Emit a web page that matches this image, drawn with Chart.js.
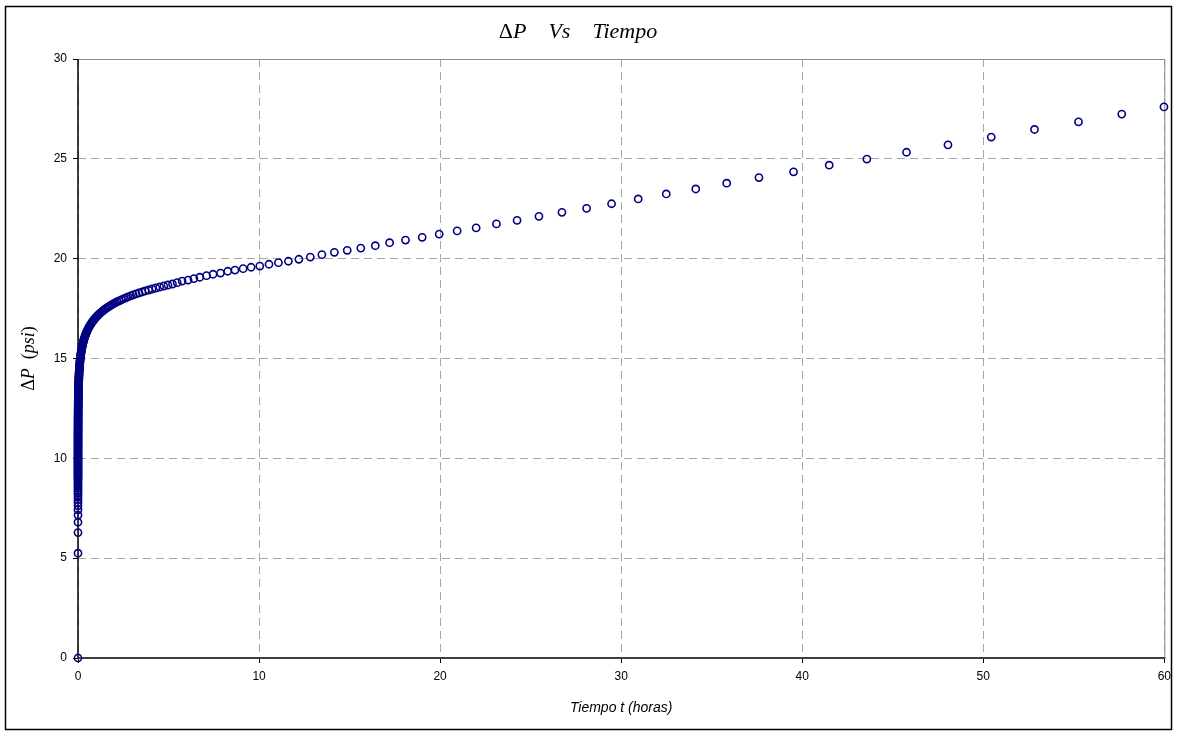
<!DOCTYPE html>
<html>
<head>
<meta charset="utf-8">
<script src="https://cdn.jsdelivr.net/npm/chart.js@4/dist/chart.umd.min.js"></script>
<style>
  html, body { margin: 0; padding: 0; background: #fff; }
  #wrap { position: relative; width: 1177px; height: 734px; }
</style>
</head>
<body>
<div id="wrap"><canvas id="chart" width="1177" height="734"></canvas></div>
<script>
// Data (hours, psi)
const tiempoHoras = [
  // early points, stacked on the y axis
  0, 0.00001, 0.00002, 0.00003, 0.00004, 0.00006, 0.00007, 0.00008, 0.00009, 0.0001,
  0.00011, 0.00012, 0.00013, 0.00015, 0.00016, 0.00018, 0.0002, 0.00022, 0.00024,
  0.00031, 0.00033, 0.00035, 0.00036, 0.00038, 0.00040, 0.00042, 0.00044, 0.00047, 0.00049,
  0.00052, 0.00054, 0.00057, 0.00060, 0.00063, 0.00066, 0.00070, 0.00073, 0.00077, 0.00081,
  0.00085, 0.00090, 0.00094, 0.00099, 0.00104, 0.00110, 0.00115, 0.00121, 0.00127, 0.00134,
  0.00140, 0.00148, 0.00155, 0.00163, 0.00171, 0.00180, 0.00190, 0.00199, 0.00210, 0.00220,
  0.00232, 0.00243, 0.00256, 0.00269, 0.00283, 0.00297, 0.00313, 0.00329, 0.00346, 0.00363,
  0.00382, 0.00402, 0.00422, 0.00444, 0.00467, 0.00491, 0.00516, 0.00542, 0.00570, 0.00599,
  // knee
  0.00628, 0.00660, 0.00694, 0.00730, 0.00767, 0.00807, 0.00848, 0.00892, 0.00937, 0.00985,
  0.01036, 0.01089, 0.01145, 0.01204, 0.01266, 0.01331, 0.01399, 0.01471, 0.01546, 0.01625,
  0.01709, 0.01797, 0.01889, 0.01986, 0.02088, 0.02195, 0.02307, 0.02426, 0.02550, 0.02681,
  0.02818, 0.02963, 0.03115, 0.03275, 0.03443, 0.03619, 0.03805, 0.04000, 0.04205, 0.04421,
  0.04648, 0.04886, 0.05137, 0.05400, 0.05677, 0.05968, 0.06274, 0.06596, 0.06934, 0.07290,
  0.07664, 0.08057, 0.08470, 0.08905, 0.09361, 0.09842, 0.1035, 0.1088, 0.1143, 0.1202,
  0.1263, 0.1328, 0.1396, 0.1468, 0.1543, 0.1622, 0.1705, 0.1793, 0.1885, 0.1981,
  0.2083, 0.2190, 0.2302, 0.2420, 0.2544, 0.2675, 0.2812, 0.2956, 0.3108, 0.3267,
  0.3435, 0.3611, 0.3796, 0.3991, 0.4190, 0.4404, 0.4630, 0.4868, 0.5117, 0.5379,
  0.5655, 0.5945, 0.6250, 0.6570, 0.6907, 0.7261, 0.7634, 0.8025, 0.8437, 0.8869,
  0.9324, 0.9802, 1.030, 1.083, 1.139, 1.197, 1.259, 1.323, 1.391, 1.462,
  1.537, 1.616, 1.699, 1.786, 1.878,
  // late points
  1.97, 2.07, 2.17, 2.28, 2.39, 2.51, 2.64, 2.77, 2.91, 3.05,
  3.21, 3.37, 3.54, 3.71, 3.90, 4.09, 4.30, 4.51, 4.74, 4.97,
  5.22, 5.48, 5.75, 6.08, 6.40, 6.73, 7.10, 7.46, 7.87, 8.27,
  8.67, 9.12, 9.56, 10.04, 10.55, 11.07, 11.62, 12.20, 12.83, 13.47,
  14.16, 14.87, 15.62, 16.42, 17.21, 18.09, 19.01, 19.95, 20.94, 21.99,
  23.11, 24.25, 25.46, 26.73, 28.09, 29.47, 30.94, 32.49, 34.12, 35.83,
  37.61, 39.52, 41.49, 43.57, 45.76, 48.05, 50.44, 52.83, 55.26, 57.65,
  59.98
];
const deltaP = [
  0, 5.25, 6.28, 6.80, 7.16, 7.42, 7.62, 7.79, 7.93, 8.06,
  8.18, 8.29, 8.39, 8.49, 8.58, 8.67, 8.76, 8.85, 8.94,
  9.00, 9.05, 9.10, 9.15, 9.20, 9.25, 9.30, 9.35, 9.40, 9.45,
  9.50, 9.55, 9.60, 9.65, 9.70, 9.75, 9.80, 9.85, 9.90, 9.95,
  10.00, 10.05, 10.10, 10.15, 10.20, 10.25, 10.30, 10.35, 10.40, 10.45,
  10.50, 10.55, 10.60, 10.65, 10.70, 10.75, 10.80, 10.85, 10.90, 10.95,
  11.00, 11.05, 11.10, 11.15, 11.20, 11.25, 11.30, 11.35, 11.40, 11.45,
  11.50, 11.55, 11.60, 11.65, 11.70, 11.75, 11.80, 11.85, 11.90, 11.95,
  12.00, 12.05, 12.10, 12.15, 12.20, 12.25, 12.30, 12.35, 12.40, 12.45,
  12.50, 12.55, 12.60, 12.65, 12.70, 12.75, 12.80, 12.85, 12.90, 12.95,
  13.00, 13.05, 13.10, 13.15, 13.20, 13.25, 13.30, 13.35, 13.40, 13.45,
  13.50, 13.55, 13.60, 13.65, 13.70, 13.75, 13.80, 13.85, 13.90, 13.95,
  14.00, 14.05, 14.10, 14.15, 14.20, 14.25, 14.30, 14.35, 14.40, 14.45,
  14.50, 14.55, 14.60, 14.65, 14.70, 14.75, 14.80, 14.85, 14.90, 14.95,
  15.00, 15.05, 15.10, 15.15, 15.20, 15.25, 15.30, 15.35, 15.40, 15.45,
  15.50, 15.55, 15.60, 15.65, 15.70, 15.75, 15.80, 15.85, 15.90, 15.95,
  16.00, 16.05, 16.10, 16.15, 16.20, 16.25, 16.30, 16.35, 16.40, 16.45,
  16.50, 16.55, 16.60, 16.65, 16.70, 16.75, 16.80, 16.85, 16.90, 16.95,
  17.00, 17.05, 17.10, 17.15, 17.20, 17.25, 17.30, 17.35, 17.40, 17.45,
  17.50, 17.55, 17.60, 17.65, 17.70,
  17.75, 17.80, 17.85, 17.89, 17.94, 17.99, 18.04, 18.09, 18.14, 18.19,
  18.24, 18.28, 18.33, 18.38, 18.43, 18.48, 18.53, 18.58, 18.63, 18.68,
  18.73, 18.80, 18.88, 18.93, 19.00, 19.07, 19.15, 19.22, 19.28, 19.37,
  19.43, 19.50, 19.57, 19.63, 19.72, 19.80, 19.87, 19.97, 20.08, 20.20,
  20.32, 20.42, 20.53, 20.65, 20.80, 20.93, 21.07, 21.23, 21.39, 21.54,
  21.74, 21.92, 22.12, 22.32, 22.52, 22.75, 22.99, 23.24, 23.49, 23.78,
  24.06, 24.35, 24.68, 24.99, 25.33, 25.70, 26.09, 26.47, 26.85, 27.24,
  27.60
];
const xTicks = { min: 0, max: 60, step: 10 };
const yTicks = { min: 0, max: 30, step: 5 };

const puntos = tiempoHoras.map((t, i) => ({ x: t, y: deltaP[i] }));

// Draws runs of text with different font styles, centred on (0,0)
function drawRuns(ctx, runs) {
  let total = 0;
  runs.forEach(r => { ctx.font = r.font; r.w = ctx.measureText(r.text).width; total += r.w; });
  let x = -total / 2;
  runs.forEach(r => {
    ctx.font = r.font;
    ctx.fillText(r.text, x, 0);
    x += r.w;
  });
}

const decorPlugin = {
  id: 'decor',
  beforeDatasetsDraw(chart) {
    const ctx = chart.ctx, a = chart.chartArea;
    ctx.save();
    ctx.setLineDash([]);
    // plot area border (top and right) in grey
    ctx.strokeStyle = '#8c8c8c';
    ctx.lineWidth = 1;
    ctx.beginPath();
    ctx.moveTo(a.left, a.top + 0.5);
    ctx.lineTo(a.right + 0.5, a.top + 0.5);
    ctx.lineTo(a.right + 0.5, a.bottom);
    ctx.stroke();
    // axis lines
    ctx.strokeStyle = '#000';
    ctx.lineWidth = 1.5;
    ctx.beginPath();
    ctx.moveTo(a.left, a.top);
    ctx.lineTo(a.left, a.bottom);
    ctx.stroke();
    ctx.strokeStyle = '#404040';
    ctx.lineWidth = 2;
    ctx.beginPath();
    ctx.moveTo(a.left, a.bottom);
    ctx.lineTo(a.right + 1, a.bottom);
    ctx.stroke();
    ctx.restore();
  },
  afterDraw(chart) {
    const ctx = chart.ctx, a = chart.chartArea;
    ctx.save();
    // outer frame
    ctx.strokeStyle = '#000';
    ctx.lineWidth = 1.5;
    ctx.strokeRect(5.5, 6.5, 1166, 723);

    ctx.fillStyle = '#000';
    ctx.textBaseline = 'middle';
    ctx.textAlign = 'left';

    // title
    ctx.save();
    ctx.translate(578, 32);
    drawRuns(ctx, [
      { text: 'Δ', font: '22px "Liberation Serif", serif' },
      { text: 'P', font: 'italic 22px "Liberation Serif", serif' },
      { text: '    Vs    Tiempo', font: 'italic 22px "Liberation Serif", serif' }
    ]);
    ctx.restore();

    // y axis title
    ctx.save();
    ctx.translate(29, (a.top + a.bottom) / 2);
    ctx.rotate(-Math.PI / 2);
    drawRuns(ctx, [
      { text: 'Δ', font: '18px "Liberation Serif", serif' },
      { text: 'P', font: 'italic 18px "Liberation Serif", serif' },
      { text: '  (', font: '18px "Liberation Serif", serif' },
      { text: 'psi', font: 'italic 18px "Liberation Serif", serif' },
      { text: ')', font: '18px "Liberation Serif", serif' }
    ]);
    ctx.restore();

    // x axis title
    ctx.save();
    ctx.translate((a.left + a.right) / 2, 708);
    drawRuns(ctx, [
      { text: 'Tiempo t (horas)', font: 'italic 14px "Liberation Sans", Arial, sans-serif' }
    ]);
    ctx.restore();

    ctx.restore();
  }
};

const tickFont = { family: '"Liberation Sans", Arial, sans-serif', size: 12 };

new Chart(document.getElementById('chart').getContext('2d'), {
  type: 'scatter',
  data: {
    datasets: [{
      data: puntos,
      showLine: false,
      pointStyle: 'circle',
      pointRadius: 3.6,
      pointBorderWidth: 1.6,
      borderColor: '#000080',
      backgroundColor: 'rgba(0,0,0,0)',
      pointHoverRadius: 3.6,
      clip: false
    }]
  },
  options: {
    responsive: false,
    animation: false,
    events: [],
    layout: { padding: { left: 0, right: 11, top: 59, bottom: 0 } },
    plugins: {
      legend: { display: false },
      tooltip: { enabled: false },
      title: { display: false }
    },
    scales: {
      x: {
        type: 'linear',
        min: xTicks.min,
        max: xTicks.max,
        afterFit(scale) { scale.height = 76; },
        ticks: { stepSize: xTicks.step, color: '#000', font: tickFont, padding: 6, maxRotation: 0 },
        grid: { color: '#a6a6a6', lineWidth: 1, tickLength: 5, tickColor: '#000', tickWidth: 1, tickBorderDash: [] },
        border: { display: false, dash: [8, 5] }
      },
      y: {
        type: 'linear',
        min: yTicks.min,
        max: yTicks.max,
        afterFit(scale) { scale.width = 78; },
        ticks: { stepSize: yTicks.step, color: '#000', font: tickFont, padding: 6 },
        grid: { color: '#a6a6a6', lineWidth: 1, tickLength: 5, tickColor: '#000', tickWidth: 1, tickBorderDash: [] },
        border: { display: false, dash: [8, 5] }
      }
    }
  },
  plugins: [decorPlugin]
});
</script>
</body>
</html>
